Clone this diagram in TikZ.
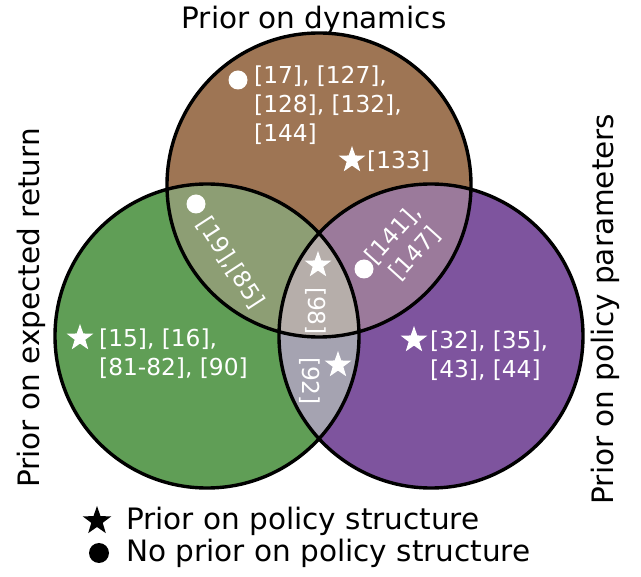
\documentclass[tikz,border=0pt]{standalone}
\usepackage{fontspec}
\setmainfont{DejaVu Sans}
\usetikzlibrary{shapes.geometric}
\definecolor{cbrown}{RGB}{158,117,84}
\definecolor{cgreen}{RGB}{96,158,86}
\definecolor{cpurple}{RGB}{126,84,158}
\definecolor{ctl}{RGB}{141,158,116}
\definecolor{ctr}{RGB}{155,122,155}
\definecolor{clr}{RGB}{165,163,177}
\definecolor{cmid}{RGB}{182,174,170}
\tikzset{
  big/.style={font=\fontsize{29.5}{35}\selectfont, inner sep=0pt},
  lab/.style={font=\fontsize{23.3}{29}\selectfont, text=white, inner sep=0pt, align=left},
  starmark/.style={star, star points=5, star point ratio=2.5, fill=white, minimum size=28pt, inner sep=0pt},
  dotmark/.style={circle, fill=white, minimum size=19pt, inner sep=0pt},
  ring/.style={draw=black, line width=3.4pt},
}
\begin{document}
\begin{tikzpicture}[x=1pt,y=-1pt]
\useasboundingbox (0,0) rectangle (641,577);
\coordinate (T) at (319,185);
\coordinate (L) at (207,336);
\coordinate (R) at (431,336);
\def\rr{152}
% base fills
\fill[cbrown] (T) circle (\rr);
\fill[cgreen] (L) circle (\rr);
\fill[cpurple] (R) circle (\rr);
\begin{scope}\clip (T) circle (\rr); \fill[ctl] (L) circle (\rr); \end{scope}
\begin{scope}\clip (T) circle (\rr); \fill[ctr] (R) circle (\rr); \end{scope}
\begin{scope}\clip (L) circle (\rr); \fill[clr] (R) circle (\rr); \end{scope}
\begin{scope}\clip (L) circle (\rr); \clip (R) circle (\rr); \fill[cmid] (T) circle (\rr); \end{scope}
% outlines
\draw[ring] (T) circle (\rr);
\draw[ring] (L) circle (\rr);
\draw[ring] (R) circle (\rr);
% set titles
\node[big] (tdyn) at (314,20) {Prior on dynamics};
\node[big, rotate=90] (tret) at (31,308) {Prior on expected return};
\node[big, rotate=90] (tpar) at (605,309) {Prior on policy parameters};
% region labels
\node[dotmark] (d1) at (238,80) {};
\node[lab, anchor=north west] (l1) at (254,66) {[17], [127],\\{}[128], [132],\\{}[144]};
\node[starmark] (s1) at (352,160) {};
\node[lab, anchor=west] (l2) at (367,161) {[133]};
\node[dotmark] (d2) at (196,204) {};
\node[lab, rotate=-57] (l3) at (231,263) {[19],[85]};
\node[starmark] (s2) at (318,265) {};
\node[lab, rotate=-90] (l4) at (316,311) {[98]};
\node[dotmark] (d3) at (364,269) {};
\node[lab, rotate=48, align=center] (l5) at (404,244) {[141],\\{}[147]};
\node[starmark] (s3) at (80,338) {};
\node[lab, anchor=west] (l6) at (99,354) {[15], [16],\\{}[81-82], [90]};
\node[starmark] (s4) at (414,340) {};
\node[lab, anchor=west] (l7) at (430,356) {[32], [35],\\{}[43], [44]};
\node[starmark] (s5) at (338,365) {};
\node[lab, rotate=-90] (l8) at (310,381) {[92]};
% legend
\node[star, star points=5, star point ratio=2.5, fill=black, minimum size=30pt, inner sep=0pt] (ks) at (97,521) {};
\node[big, anchor=west] (kt1) at (126,521) {Prior on policy structure};
\node[circle, fill=black, minimum size=20pt, inner sep=0pt] (kd) at (99,553) {};
\node[big, anchor=west] (kt2) at (126,553) {No prior on policy structure};
\end{tikzpicture}
\end{document}
